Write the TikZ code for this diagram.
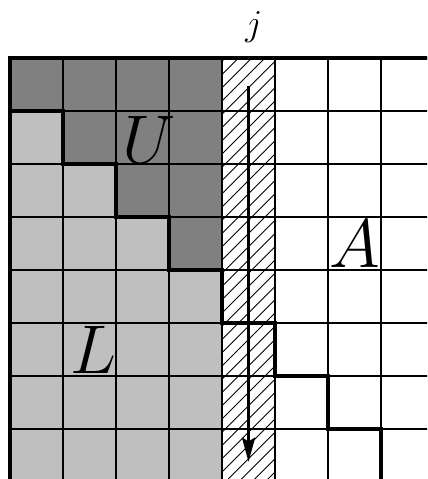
\RequirePackage{fix-cm}
\documentclass[tikz,border=0pt]{standalone}
\usepackage{amsmath, amssymb}
\usetikzlibrary{arrows.meta}

\begin{document}
\begin{tikzpicture}[>={Stealth[length=13pt, width=7pt, inset=2pt]},
    gridline/.style={line width=1pt},
    stair/.style={line width=2pt},
    hatch/.style={line width=0.5pt},
    big/.style={font=\fontsize{37}{40}\selectfont}]
    \useasboundingbox (-0.189,0.057) rectangle (7.868,9.094);
    \clip (-0.189,0.057) rectangle (7.868,9.094);
    % lower part L
    \fill[black!25] (0,-1) rectangle (4,8);
    % upper part U
    \fill[black!50] (0,8) -- (4,8) -- (4,4) -- (3,4) -- (3,5) -- (2,5)
        -- (2,6) -- (1,6) -- (1,7) -- (0,7) -- cycle;
    % column j, hatched
    \begin{scope}
        \clip (4,-1) rectangle (5,8);
        \foreach \k in {-37,...,4}
            \draw[hatch] (4.06+\k*0.25,-1) -- ++(10,10);
    \end{scope}
    % grid
    \draw[gridline] (0,-1) grid (8,8);
    % borders and the staircase
    \draw[stair] (0,-1) -- (0,8) -- (8,8);
    \draw[stair] (0,7) -- (1,7) -- (1,6) -- (2,6) -- (2,5) -- (3,5) -- (3,4)
        -- (4,4) -- (4,3) -- (5,3) -- (5,2) -- (6,2) -- (6,1) -- (7,1) -- (7,-1);
    % sweep down column j
    \coordinate (jtop) at (4.5,7.47);
    \coordinate (jbot) at (4.5,0.38);
    \draw[->, line width=1.6pt] (jtop) -- (jbot);
    % labels
    \node[big] (ulab) at (2.62,6.45) {$U$};
    \node[big] (llab) at (1.57,2.5) {$L$};
    \node[big] (alab) at (6.5,4.5) {$A$};
    \node[font=\fontsize{19.6}{22}\selectfont] (jlab) at (4.6,8.58) {$j$};
\end{tikzpicture}
\end{document}
